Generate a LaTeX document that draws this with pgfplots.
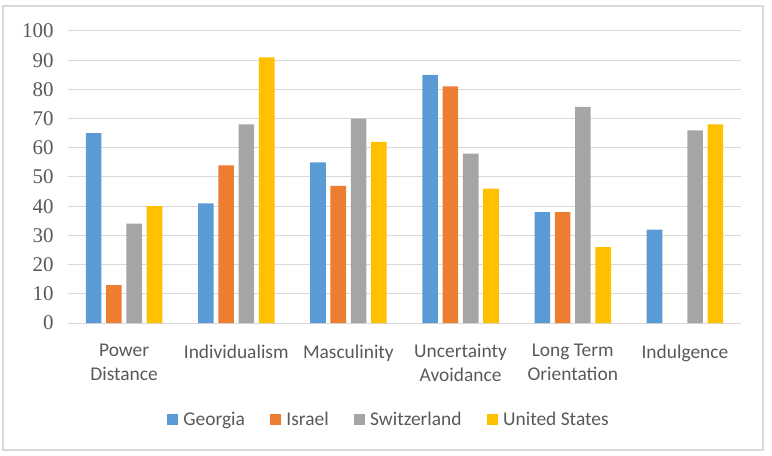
\documentclass[border=0pt]{standalone}
\usepackage{pgfplots}
\pgfplotsset{compat=1.18}
\usepackage{fontspec}
\setmainfont{Carlito}
\newfontfamily\numfont{Liberation Serif}
\definecolor{cGeo}{HTML}{5B9BD5}
\definecolor{cIsr}{HTML}{ED7D31}
\definecolor{cSwi}{HTML}{A5A5A5}
\definecolor{cUSA}{HTML}{FFC000}
\definecolor{textgray}{HTML}{595959}
\definecolor{gridc}{HTML}{D9D9D9}
\definecolor{framec}{HTML}{D9D9D9}
\begin{document}
\begin{tikzpicture}
\useasboundingbox (-68bp,-133bp) rectangle (704bp,323bp);
\draw[color=framec, line width=1.5bp] (-65bp,-127bp) rectangle (695bp,317bp);
\begin{axis}[
  scale only axis, width=673bp, height=292bp,
  xmin=-0.5, xmax=5.5, ymin=0, ymax=100,
  ytick={0,10,...,100},
  xtick={0,...,5},
  xticklabels={{Power\\Distance},Individualism,Masculinity,{Uncertainty\\Avoidance},{Long Term\\Orientation},Indulgence},
  xticklabel style={align=center, font=\fontsize{19.5}{23.5}\selectfont, text=textgray, yshift=-18bp},
  yticklabel style={font=\numfont\fontsize{21}{24}\selectfont, text=textgray, xshift=-11bp,
    /pgf/number format/assume math mode=true},
  ymajorgrids, major grid style={draw=gridc, line width=1bp},
  axis line style={draw=none},
  major tick length=0pt,
  ybar=4.7bp, bar width=15.6bp,
  legend columns=4,
  legend style={at={(0.477,-0.329)}, anchor=center, draw=none,
    font=\fontsize{19.5}{23.5}\selectfont, text=textgray,
    /tikz/every odd column/.append style={column sep=3bp},
    /tikz/every even column/.append style={column sep=23.5bp}},
  legend image code/.code={\fill[#1] (0bp,-5.5bp) rectangle (11bp,5.5bp);},
]
\addplot[draw=none, fill=cGeo] coordinates {(0,65) (1,41) (2,55) (3,85) (4,38) (5,32)};
\addplot[draw=none, fill=cIsr] coordinates {(0,13) (1,54) (2,47) (3,81) (4,38)};
\addplot[draw=none, fill=cSwi] coordinates {(0,34) (1,68) (2,70) (3,58) (4,74) (5,66)};
\addplot[draw=none, fill=cUSA] coordinates {(0,40) (1,91) (2,62) (3,46) (4,26) (5,68)};
\legend{Georgia, Israel, Switzerland, United States}
\end{axis}
\end{tikzpicture}
\end{document}
